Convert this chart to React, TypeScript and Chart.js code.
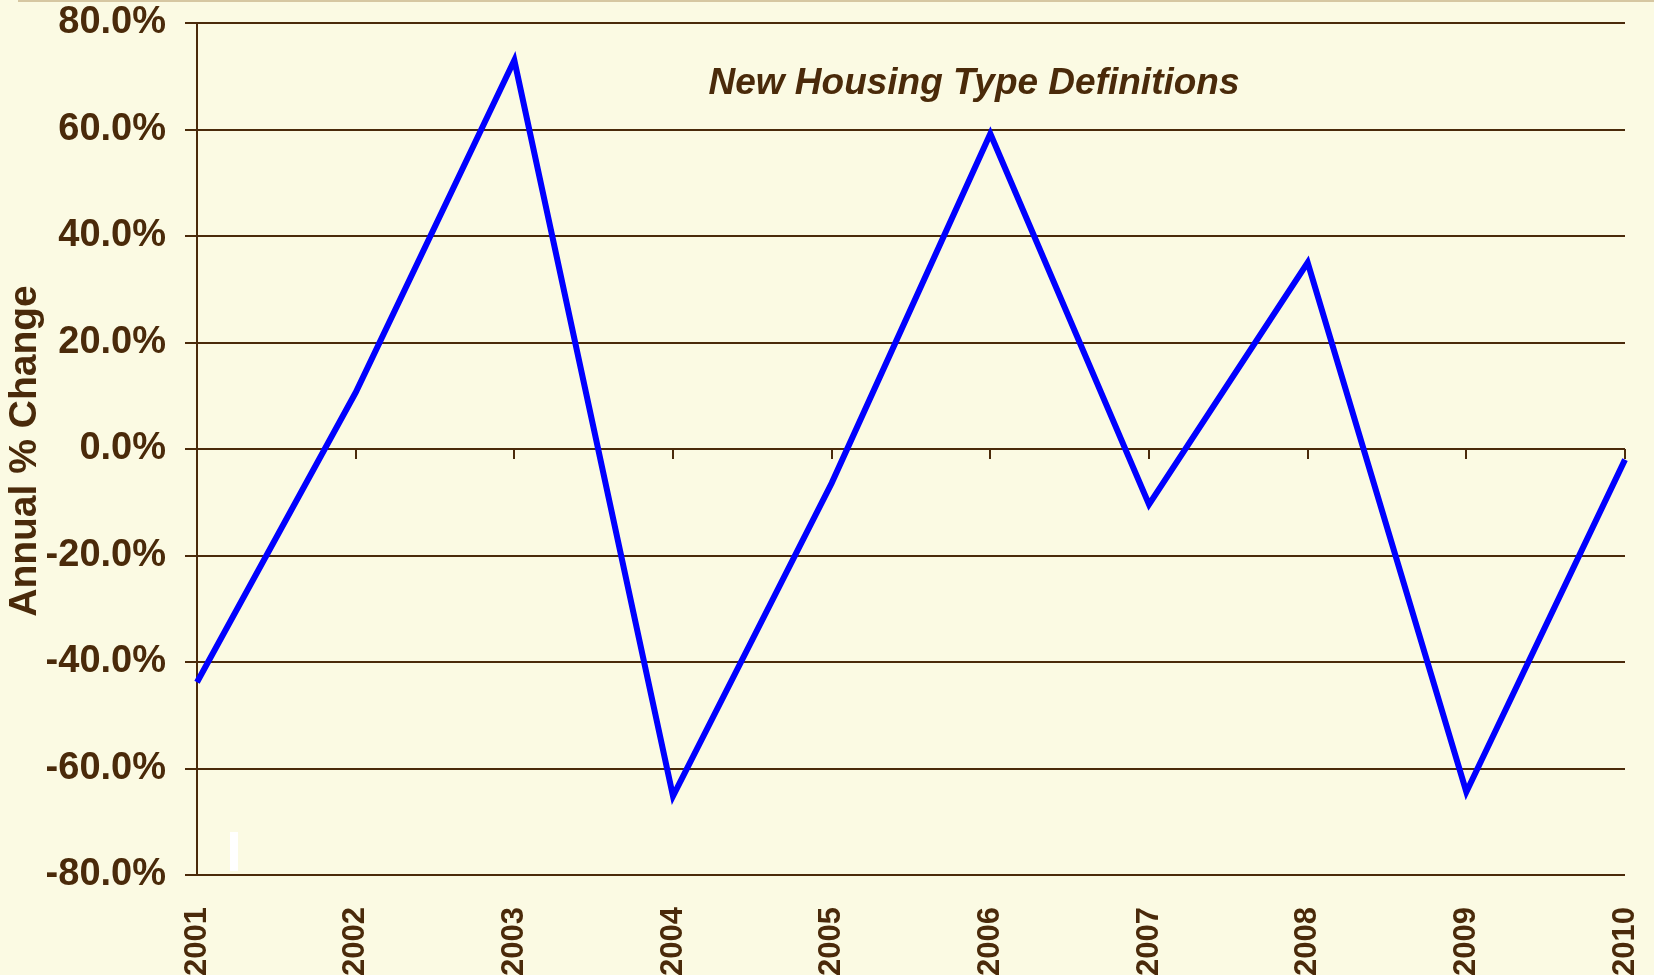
import React, { useEffect, useRef } from "react";
import { Chart, registerables } from "chart.js";

Chart.register(...registerables);

const years = ["2001", "2002", "2003", "2004", "2005", "2006", "2007", "2008", "2009", "2010"];
const annualChange = [-43.8, 10.6, 73.0, -65.2, -6.4, 59.2, -10.4, 35.0, -64.4, -2.0];
const yMin = -80;
const yMax = 80;
const yStep = 20;
const chartTitle = "New Housing Type Definitions";
const yAxisTitle = "Annual % Change";

const BG = "#FBFAE3";
const BROWN = "#4A2A0A";
const FONT = "'Liberation Sans', Arial, sans-serif";

const decorPlugin = {
  id: "decor",
  beforeDraw(chart: any) {
    const { ctx, width, height } = chart;
    ctx.save();
    ctx.fillStyle = BG;
    ctx.fillRect(0, 0, width, height);
    ctx.strokeStyle = "#D6C7A2";
    ctx.lineWidth = 2;
    ctx.beginPath();
    ctx.moveTo(18, 1);
    ctx.lineTo(width, 1);
    ctx.stroke();
    ctx.restore();
  },
  afterDraw(chart: any) {
    const { ctx, chartArea } = chart;
    const xs = chart.scales.x;
    const ys = chart.scales.y;
    const zeroY = ys.getPixelForValue(0);
    ctx.save();
    ctx.strokeStyle = BROWN;
    ctx.lineWidth = 2;
    ctx.beginPath();
    for (let i = 1; i < years.length; i++) {
      const x = Math.round(xs.getPixelForValue(i));
      ctx.moveTo(x, zeroY);
      ctx.lineTo(x, zeroY + 10);
    }
    ctx.stroke();
    ctx.fillStyle = "#FFFFFF";
    ctx.fillRect(chartArea.left + 33, chartArea.bottom - 43, 8, 39);
    ctx.fillStyle = BROWN;
    ctx.font = `italic bold 37px ${FONT}`;
    ctx.textAlign = "center";
    ctx.textBaseline = "middle";
    ctx.fillText(chartTitle, 974, 84);
    ctx.translate(25, 451);
    ctx.rotate(-Math.PI / 2);
    ctx.font = `bold 39px ${FONT}`;
    ctx.fillText(yAxisTitle, 0, 0);
    ctx.restore();
  },
};

export default function App() {
  const ref = useRef<HTMLCanvasElement | null>(null);
  useEffect(() => {
    if (!ref.current) return;
    const chart = new Chart(ref.current, {
      type: "line",
      data: {
        labels: years,
        datasets: [
          {
            data: annualChange,
            borderColor: "#0000FF",
            borderWidth: 6,
            pointRadius: 0,
            borderJoinStyle: "miter",
            borderCapStyle: "butt",
            tension: 0,
            fill: false,
            clip: false,
          },
        ],
      },
      options: {
        animation: false,
        responsive: false,
        maintainAspectRatio: false,
        layout: { padding: { top: 23, right: 29, left: 0, bottom: 0 } },
        plugins: { legend: { display: false }, tooltip: { enabled: false }, title: { display: false } },
        scales: {
          x: {
            type: "category",
            offset: false,
            grid: { display: false, drawTicks: false },
            border: { display: false },
            ticks: {
              color: BROWN,
              font: { family: FONT, size: 31, weight: "bold" },
              minRotation: 90,
              maxRotation: 90,
              autoSkip: false,
              padding: 32,
            },
            afterFit(scale: any) {
              scale.height = 100;
              scale.paddingLeft = 0;
              scale.paddingRight = 0;
            },
          },
          y: {
            min: yMin,
            max: yMax,
            grid: { color: BROWN, lineWidth: 2, tickLength: 12, drawTicks: true, tickColor: BROWN },
            border: { display: true, color: BROWN, width: 2 },
            ticks: {
              stepSize: yStep,
              color: BROWN,
              padding: 19,
              font: { family: FONT, size: 38, weight: "bold" },
              callback: (v: any) => Number(v).toFixed(1) + "%",
            },
            afterFit(scale: any) {
              scale.width = 197;
              scale.paddingTop = 0;
              scale.paddingBottom = 0;
            },
          },
        },
      },
      plugins: [decorPlugin],
    } as any);
    return () => chart.destroy();
  }, []);
  return (
    <div style={{ position: "fixed", left: 0, top: 0, width: 1654, height: 975, background: BG }}>
      <canvas ref={ref} width={1654} height={975} style={{ display: "block", width: 1654, height: 975 }} />
    </div>
  );
}
